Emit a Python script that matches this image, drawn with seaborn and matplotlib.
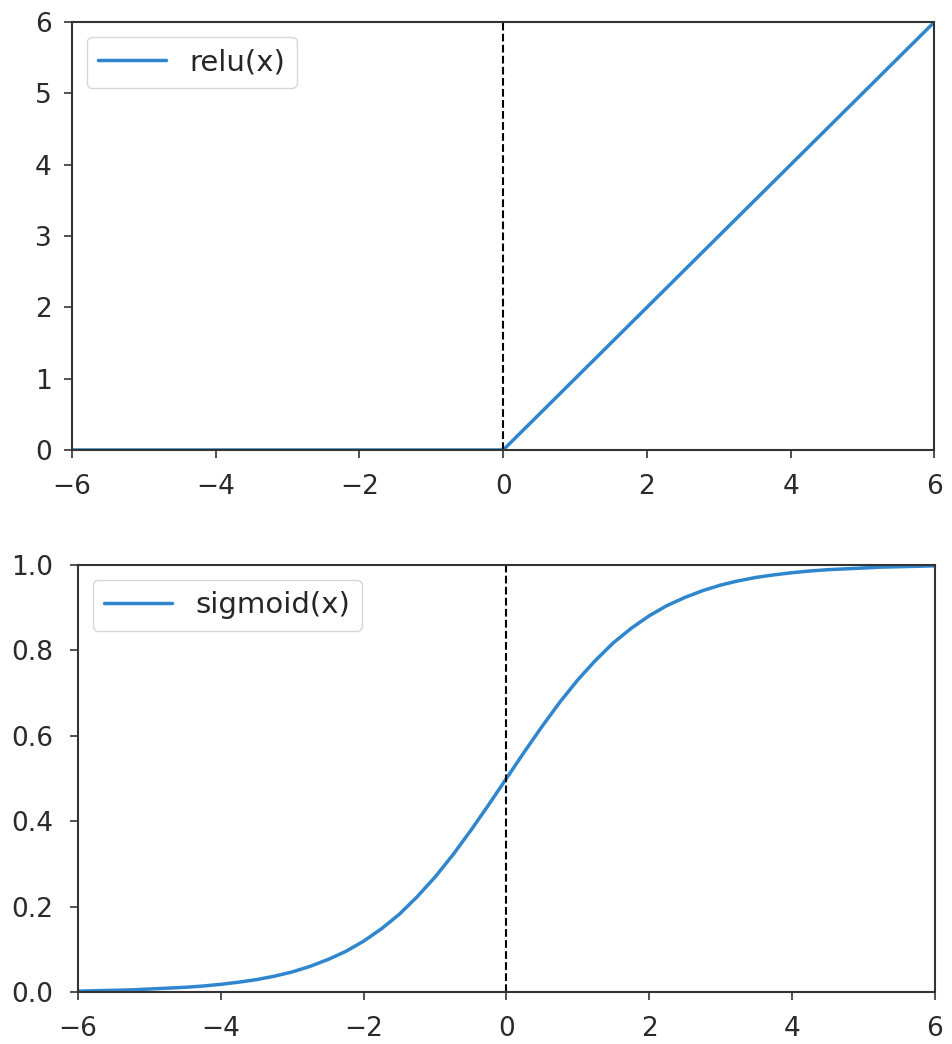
import seaborn as sns
import matplotlib.pyplot as plt
import pandas as pd

# values
relu_x = [-6, -4, -2, 0, 2, 4, 6]
relu_y = [0, 0, 0, 0, 2, 4, 6]

sig_x = [-6, -5.75, -5.5, -5.25, -5, -4.75, -4.5, -4.25, -4, -3.75, -3.5, -3.25,
         -3, -2.75, -2.5, -2.25, -2, -1.75, -1.5, -1.25, -1, -0.75, -0.5, -0.25,
         0, 0.25, 0.5, 0.75, 1, 1.25, 1.5, 1.75, 2, 2.25, 2.5, 2.75,
         3, 3.25, 3.5, 3.75, 4, 4.25, 4.5, 4.75, 5, 5.25, 5.5, 5.75, 6]
sig_y = [0.002, 0.003, 0.004, 0.005, 0.007, 0.009, 0.011, 0.014, 0.018, 0.023, 0.029, 0.037,
         0.047, 0.060, 0.076, 0.095, 0.119, 0.148, 0.182, 0.223, 0.269, 0.321, 0.378, 0.438,
         0.5, 0.562, 0.622, 0.679, 0.731, 0.777, 0.818, 0.852, 0.881, 0.905, 0.924, 0.940,
         0.953, 0.963, 0.971, 0.977, 0.982, 0.986, 0.989, 0.991, 0.993, 0.995, 0.996, 0.997, 0.998]

sns.set_style('ticks')
plt.rcParams['font.family'] = ['DejaVu Sans']
plt.rcParams['font.size'] = 19

fig = plt.figure(figsize=(9.52, 10.44), dpi=100)
ax1 = fig.add_axes([0.0756, 0.569, 0.906, 0.410])
ax2 = fig.add_axes([0.0819, 0.0498, 0.900, 0.409])

blue = '#2f86cc'

df1 = pd.DataFrame({'x': relu_x, 'y': relu_y})
sns.lineplot(data=df1, x='x', y='y', ax=ax1, color=blue, lw=2.5, label='relu(x)')
ax1.axvline(0, color='black', ls='--', lw=1.5)
ax1.set_xlim(-6, 6)
ax1.set_ylim(0, 6)
ax1.set_xticks([-6, -4, -2, 0, 2, 4, 6])
ax1.set_yticks([0, 1, 2, 3, 4, 5, 6])

df2 = pd.DataFrame({'x': sig_x, 'y': sig_y})
sns.lineplot(data=df2, x='x', y='y', ax=ax2, color=blue, lw=2.5, label='sigmoid(x)')
ax2.axvline(0, color='black', ls='--', lw=1.5)
ax2.set_xlim(-6, 6)
ax2.set_ylim(0, 1)
ax2.set_xticks([-6, -4, -2, 0, 2, 4, 6])
ax2.set_yticks([0, 0.2, 0.4, 0.6, 0.8, 1.0])

for ax, ypad in ((ax1, 8.5), (ax2, 12)):
    ax.set_xlabel('')
    ax.set_ylabel('')
    ax.tick_params(labelsize=19, length=6, width=1.2, colors='#333333', labelcolor='#2a2a2a')
    ax.tick_params(axis='x', pad=11)
    ax.tick_params(axis='y', pad=ypad)
    for s in ax.spines.values():
        s.set_color('#333333')
        s.set_linewidth(1.5)
    ax.legend(loc='upper left', fontsize=21, handlelength=2.33, borderpad=0.4,
              handletextpad=0.8)

fig.savefig('out.png', dpi=100)
